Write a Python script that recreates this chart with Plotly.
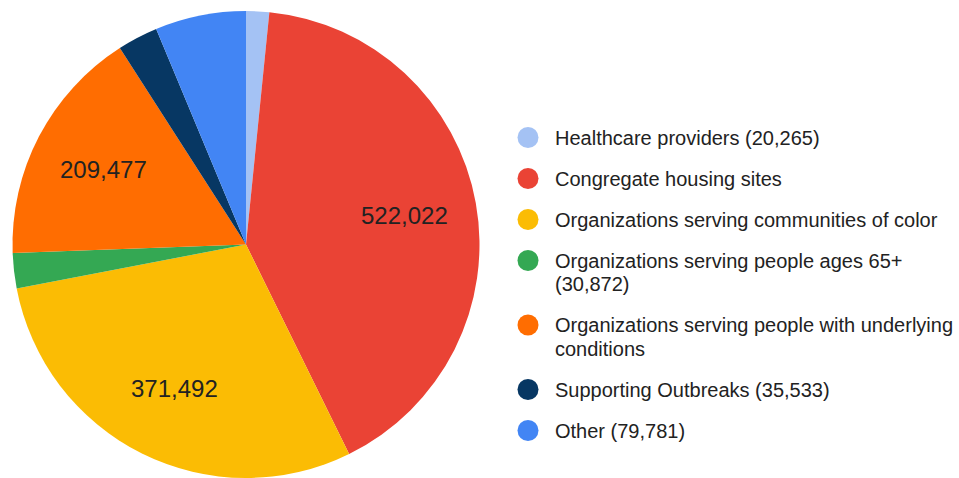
import math
import plotly.graph_objects as go

# Vaccine allocation by recipient group
categories = [
    "Healthcare providers",
    "Congregate housing sites",
    "Organizations serving communities of color",
    "Organizations serving people ages 65+",
    "Organizations serving people with underlying conditions",
    "Supporting Outbreaks",
    "Other",
]
values = [20265, 522022, 371492, 30872, 209477, 35533, 79781]
colors = ["#a4c2f4", "#ea4335", "#fbbc04", "#34a853", "#ff6d01", "#073763", "#4285f4"]

# Legend text, one list of lines per entry
legend_lines = [
    ["Healthcare providers (20,265)"],
    ["Congregate housing sites"],
    ["Organizations serving communities of color"],
    ["Organizations serving people ages 65+", "(30,872)"],
    ["Organizations serving people with underlying", "conditions"],
    ["Supporting Outbreaks (35,533)"],
    ["Other (79,781)"],
]

W, H = 959, 478
FONT = "Liberation Sans, Arial, sans-serif"
TEXT = "#222222"

# Pie placement (pixels): domain chosen so the disc sits at the left
dom_x = [0, 492 / W]
dom_y = [0, 1 - 11 / H]
cx_px = (dom_x[0] + dom_x[1]) / 2 * W
cy_px = H - (dom_y[0] + dom_y[1]) / 2 * H
radius_px = min((dom_x[1] - dom_x[0]) * W, (dom_y[1] - dom_y[0]) * H) / 2

fig = go.Figure(
    go.Pie(
        labels=categories,
        values=values,
        textinfo="none",
        marker=dict(colors=colors, line=dict(width=0)),
        sort=False,
        direction="clockwise",
        rotation=0,
        showlegend=False,
        hoverinfo="label+value+percent",
        domain=dict(x=dom_x, y=dom_y),
    )
)

annotations = []

# Value labels on the large slices, placed along each slice's mid-angle
total = sum(values)
start = 0.0
for v in values:
    sweep = v / total * 360
    mid = math.radians(start + sweep / 2)
    start += sweep
    if v / total <= 0.1:
        continue
    r = 0.69 * radius_px
    px = cx_px + r * math.sin(mid)
    py = cy_px - r * math.cos(mid)
    annotations.append(dict(
        text=f"{v:,}", xref="paper", yref="paper",
        x=px / W, y=1 - py / H, xanchor="center", yanchor="middle",
        showarrow=False, font=dict(family=FONT, size=24, color=TEXT),
    ))

# Hand-built legend: circle swatch plus text lines
shapes = []
y = 137.5
for color, lines in zip(colors, legend_lines):
    r = 10.5
    sx = 528
    shapes.append(dict(
        type="circle", xref="paper", yref="paper",
        x0=(sx - r) / W, x1=(sx + r) / W,
        y0=1 - (y + r) / H, y1=1 - (y - r) / H,
        fillcolor=color, line=dict(width=0),
    ))
    for j, line in enumerate(lines):
        annotations.append(dict(
            text=line, xref="paper", yref="paper",
            x=553 / W, y=1 - (y + j * 23.5) / H,
            xanchor="left", yanchor="middle", showarrow=False,
            font=dict(family=FONT, size=20, color=TEXT),
        ))
    y += 41 + 23.5 * (len(lines) - 1)

fig.update_layout(
    width=W, height=H,
    margin=dict(l=0, r=0, t=0, b=0),
    paper_bgcolor="white",
    plot_bgcolor="white",
    shapes=shapes,
    annotations=annotations,
)

fig.write_html("out.html")
